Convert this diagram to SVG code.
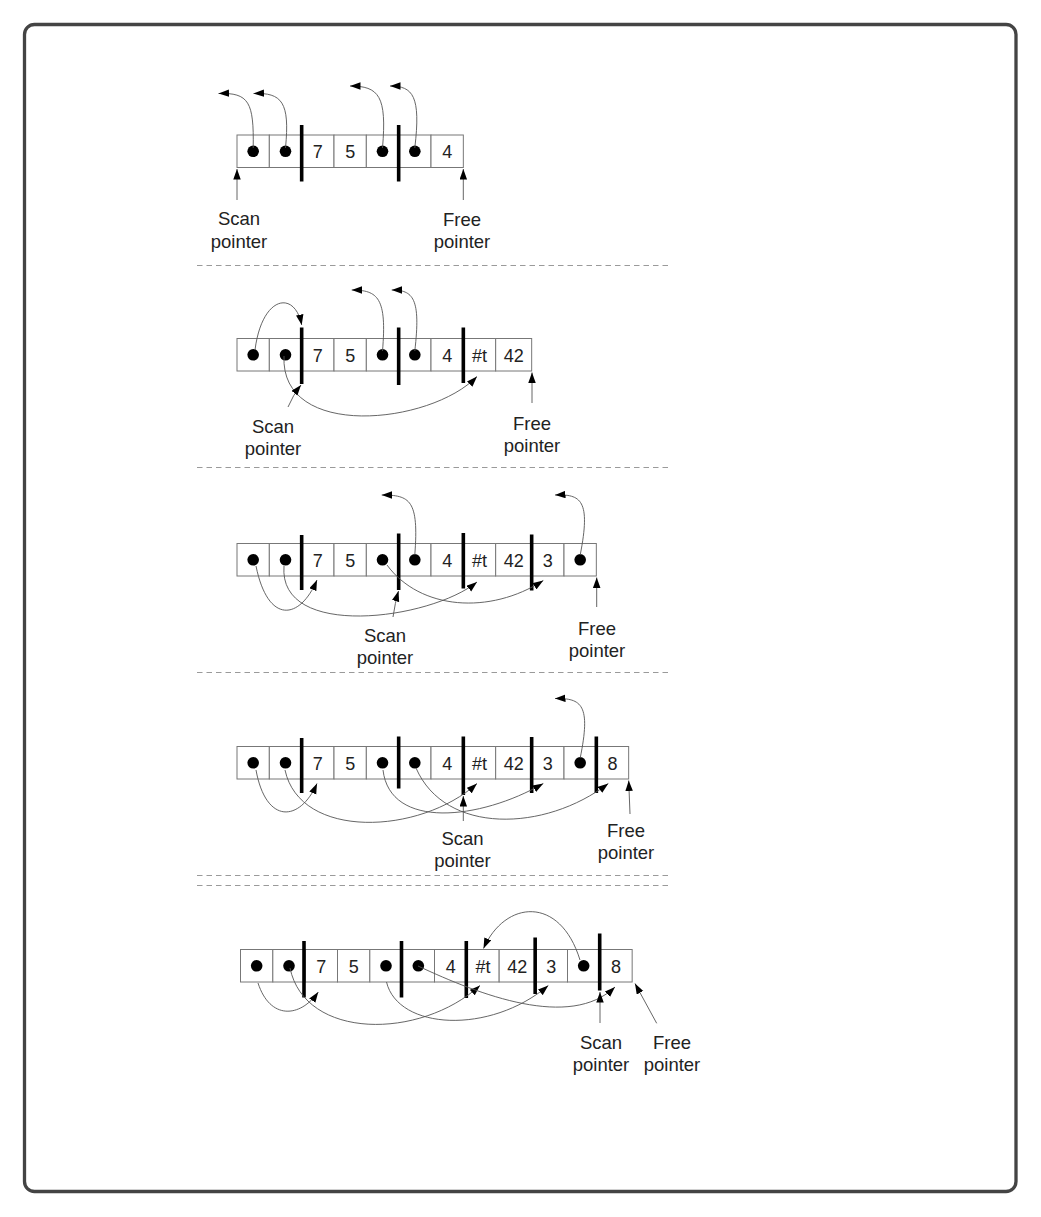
<svg xmlns="http://www.w3.org/2000/svg" width="1041" height="1217" viewBox="0 0 1041 1217">
<defs>
<style>
.frame{fill:#fff;stroke:#444;stroke-width:3.3}
.cell{fill:#fff;stroke:#777;stroke-width:1}
.val{font-family:"Liberation Sans",Arial,sans-serif;font-size:18px;text-anchor:middle;fill:#222}
.lbl{font-family:"Liberation Sans",Arial,sans-serif;font-size:18.5px;text-anchor:middle;fill:#222}
.bar{stroke:#000;stroke-width:3.6}
.dot{fill:#000}
.conn{fill:none;stroke:#555;stroke-width:0.9;marker-end:url(#ah)}
.sep{stroke:#9a9a9a;stroke-width:1.2;stroke-dasharray:5.5 4}
</style>
<marker id="ah" markerUnits="userSpaceOnUse" markerWidth="11" markerHeight="8" refX="10.5" refY="3.75" orient="auto">
<path d="M0,0 L10.5,3.75 L0,7.5 z" fill="#000"/>
</marker>
</defs>
<rect class="frame" x="24.5" y="24.5" width="991.5" height="1167" rx="10"/>

<g id="separators">
<line class="sep" x1="197" y1="265.5" x2="668" y2="265.5"/>
<line class="sep" x1="197" y1="467.5" x2="668" y2="467.5"/>
<line class="sep" x1="197" y1="672.5" x2="668" y2="672.5"/>
<line class="sep" x1="197" y1="875.5" x2="668" y2="875.5"/>
<line class="sep" x1="197" y1="885.5" x2="668" y2="885.5"/>
</g>

<!-- Panel 1 -->
<g id="row1" transform="translate(0,135)">
<rect class="cell" x="237" y="0" width="32.33" height="32.5"/>
<rect class="cell" x="269.33" y="0" width="32.33" height="32.5"/>
<rect class="cell" x="301.67" y="0" width="32.33" height="32.5"/>
<rect class="cell" x="334" y="0" width="32.33" height="32.5"/>
<rect class="cell" x="366.33" y="0" width="32.33" height="32.5"/>
<rect class="cell" x="398.67" y="0" width="32.33" height="32.5"/>
<rect class="cell" x="431" y="0" width="32.33" height="32.5"/>
<circle class="dot" cx="253.17" cy="16.3" r="5.8"/>
<circle class="dot" cx="285.5" cy="16.3" r="5.8"/>
<text class="val" x="317.83" y="23">7</text>
<text class="val" x="350.17" y="23">5</text>
<circle class="dot" cx="382.5" cy="16.3" r="5.8"/>
<circle class="dot" cx="414.83" cy="16.3" r="5.8"/>
<text class="val" x="447.17" y="23">4</text>
<line class="bar" x1="301.67" y1="-10" x2="301.67" y2="46.5"/>
<line class="bar" x1="398.67" y1="-10" x2="398.67" y2="46.5"/>
</g>
<g id="labels1">
<text class="lbl" x="239" y="225">Scan</text>
<text class="lbl" x="239" y="247.5">pointer</text>
<text class="lbl" x="462" y="225.5">Free</text>
<text class="lbl" x="462" y="247.5">pointer</text>
</g>

<!-- Panel 2 -->
<g id="row2" transform="translate(0,338.5)">
<rect class="cell" x="237" y="0" width="32.33" height="32.5"/>
<rect class="cell" x="269.33" y="0" width="32.33" height="32.5"/>
<rect class="cell" x="301.67" y="0" width="32.33" height="32.5"/>
<rect class="cell" x="334" y="0" width="32.33" height="32.5"/>
<rect class="cell" x="366.33" y="0" width="32.33" height="32.5"/>
<rect class="cell" x="398.67" y="0" width="32.33" height="32.5"/>
<rect class="cell" x="431" y="0" width="32.33" height="32.5"/>
<rect class="cell" x="463.33" y="0" width="32.33" height="32.5"/>
<rect class="cell" x="495.67" y="0" width="36" height="32.5"/>
<circle class="dot" cx="253.17" cy="16.3" r="5.8"/>
<circle class="dot" cx="285.5" cy="16.3" r="5.8"/>
<text class="val" x="317.83" y="23">7</text>
<text class="val" x="350.17" y="23">5</text>
<circle class="dot" cx="382.5" cy="16.3" r="5.8"/>
<circle class="dot" cx="414.83" cy="16.3" r="5.8"/>
<text class="val" x="447.17" y="23">4</text>
<text class="val" x="479.5" y="23">#t</text>
<text class="val" x="513.67" y="23">42</text>
<line class="bar" x1="301.67" y1="-11" x2="301.67" y2="45.5"/>
<line class="bar" x1="398.67" y1="-11" x2="398.67" y2="46.5"/>
<line class="bar" x1="463.33" y1="-11" x2="463.33" y2="44.5"/>
</g>
<g id="labels2">
<text class="lbl" x="273" y="433">Scan</text>
<text class="lbl" x="273" y="455">pointer</text>
<text class="lbl" x="532" y="429.5">Free</text>
<text class="lbl" x="532" y="451.5">pointer</text>
</g>

<!-- Panel 3 -->
<g id="row3" transform="translate(0,543.5)">
<rect class="cell" x="237" y="0" width="32.33" height="32.5"/>
<rect class="cell" x="269.33" y="0" width="32.33" height="32.5"/>
<rect class="cell" x="301.67" y="0" width="32.33" height="32.5"/>
<rect class="cell" x="334" y="0" width="32.33" height="32.5"/>
<rect class="cell" x="366.33" y="0" width="32.33" height="32.5"/>
<rect class="cell" x="398.67" y="0" width="32.33" height="32.5"/>
<rect class="cell" x="431" y="0" width="32.33" height="32.5"/>
<rect class="cell" x="463.33" y="0" width="32.33" height="32.5"/>
<rect class="cell" x="495.67" y="0" width="36" height="32.5"/>
<rect class="cell" x="531.67" y="0" width="32.33" height="32.5"/>
<rect class="cell" x="564" y="0" width="32.33" height="32.5"/>
<circle class="dot" cx="253.17" cy="16.3" r="5.8"/>
<circle class="dot" cx="285.5" cy="16.3" r="5.8"/>
<text class="val" x="317.83" y="23">7</text>
<text class="val" x="350.17" y="23">5</text>
<circle class="dot" cx="382.5" cy="16.3" r="5.8"/>
<circle class="dot" cx="414.83" cy="16.3" r="5.8"/>
<text class="val" x="447.17" y="23">4</text>
<text class="val" x="479.5" y="23">#t</text>
<text class="val" x="513.67" y="23">42</text>
<text class="val" x="547.83" y="23">3</text>
<circle class="dot" cx="580.17" cy="16.3" r="5.8"/>
<line class="bar" x1="301.67" y1="-8.5" x2="301.67" y2="46.5"/>
<line class="bar" x1="398.67" y1="-10" x2="398.67" y2="46.5"/>
<line class="bar" x1="463.33" y1="-10.5" x2="463.33" y2="45"/>
<line class="bar" x1="531.67" y1="-9" x2="531.67" y2="47"/>
</g>
<g id="labels3">
<text class="lbl" x="385" y="642">Scan</text>
<text class="lbl" x="385" y="664">pointer</text>
<text class="lbl" x="597" y="635">Free</text>
<text class="lbl" x="597" y="657">pointer</text>
</g>

<!-- Panel 4 -->
<g id="row4" transform="translate(0,746.5)">
<rect class="cell" x="237" y="0" width="32.33" height="32.5"/>
<rect class="cell" x="269.33" y="0" width="32.33" height="32.5"/>
<rect class="cell" x="301.67" y="0" width="32.33" height="32.5"/>
<rect class="cell" x="334" y="0" width="32.33" height="32.5"/>
<rect class="cell" x="366.33" y="0" width="32.33" height="32.5"/>
<rect class="cell" x="398.67" y="0" width="32.33" height="32.5"/>
<rect class="cell" x="431" y="0" width="32.33" height="32.5"/>
<rect class="cell" x="463.33" y="0" width="32.33" height="32.5"/>
<rect class="cell" x="495.67" y="0" width="36" height="32.5"/>
<rect class="cell" x="531.67" y="0" width="32.33" height="32.5"/>
<rect class="cell" x="564" y="0" width="32.33" height="32.5"/>
<rect class="cell" x="596.33" y="0" width="32.33" height="32.5"/>
<circle class="dot" cx="253.17" cy="16.3" r="5.8"/>
<circle class="dot" cx="285.5" cy="16.3" r="5.8"/>
<text class="val" x="317.83" y="23">7</text>
<text class="val" x="350.17" y="23">5</text>
<circle class="dot" cx="382.5" cy="16.3" r="5.8"/>
<circle class="dot" cx="414.83" cy="16.3" r="5.8"/>
<text class="val" x="447.17" y="23">4</text>
<text class="val" x="479.5" y="23">#t</text>
<text class="val" x="513.67" y="23">42</text>
<text class="val" x="547.83" y="23">3</text>
<circle class="dot" cx="580.17" cy="16.3" r="5.8"/>
<text class="val" x="612.5" y="23">8</text>
<line class="bar" x1="301.67" y1="-8.5" x2="301.67" y2="46.5"/>
<line class="bar" x1="398.67" y1="-10" x2="398.67" y2="42"/>
<line class="bar" x1="463.33" y1="-10" x2="463.33" y2="48.5"/>
<line class="bar" x1="531.67" y1="-9.5" x2="531.67" y2="46.5"/>
<line class="bar" x1="596.33" y1="-10" x2="596.33" y2="46.5"/>
</g>
<g id="labels4">
<text class="lbl" x="462.5" y="845">Scan</text>
<text class="lbl" x="462.5" y="867">pointer</text>
<text class="lbl" x="626" y="837">Free</text>
<text class="lbl" x="626" y="859">pointer</text>
</g>

<!-- Panel 5 -->
<g id="row5" transform="translate(3.5,949.5)">
<rect class="cell" x="237" y="0" width="32.33" height="32.5"/>
<rect class="cell" x="269.33" y="0" width="32.33" height="32.5"/>
<rect class="cell" x="301.67" y="0" width="32.33" height="32.5"/>
<rect class="cell" x="334" y="0" width="32.33" height="32.5"/>
<rect class="cell" x="366.33" y="0" width="32.33" height="32.5"/>
<rect class="cell" x="398.67" y="0" width="32.33" height="32.5"/>
<rect class="cell" x="431" y="0" width="32.33" height="32.5"/>
<rect class="cell" x="463.33" y="0" width="32.33" height="32.5"/>
<rect class="cell" x="495.67" y="0" width="36" height="32.5"/>
<rect class="cell" x="531.67" y="0" width="32.33" height="32.5"/>
<rect class="cell" x="564" y="0" width="32.33" height="32.5"/>
<rect class="cell" x="596.33" y="0" width="32.33" height="32.5"/>
<circle class="dot" cx="253.17" cy="16.3" r="5.8"/>
<circle class="dot" cx="285.5" cy="16.3" r="5.8"/>
<text class="val" x="317.83" y="23">7</text>
<text class="val" x="350.17" y="23">5</text>
<circle class="dot" cx="382.5" cy="16.3" r="5.8"/>
<circle class="dot" cx="414.83" cy="16.3" r="5.8"/>
<text class="val" x="447.17" y="23">4</text>
<text class="val" x="479.5" y="23">#t</text>
<text class="val" x="513.67" y="23">42</text>
<text class="val" x="547.83" y="23">3</text>
<circle class="dot" cx="580.17" cy="16.3" r="5.8"/>
<text class="val" x="612.5" y="23">8</text>
<line class="bar" x1="300.5" y1="-8.5" x2="300.5" y2="48"/>
<line class="bar" x1="398" y1="-8.5" x2="398" y2="48"/>
<line class="bar" x1="462.8" y1="-8.5" x2="462.8" y2="48.5"/>
<line class="bar" x1="531.67" y1="-12" x2="531.67" y2="44.5"/>
<line class="bar" x1="596.2" y1="-16" x2="596.2" y2="41"/>
</g>
<g id="labels5">
<text class="lbl" x="601" y="1049">Scan</text>
<text class="lbl" x="601" y="1071">pointer</text>
<text class="lbl" x="672" y="1049">Free</text>
<text class="lbl" x="672" y="1071">pointer</text>
</g>

<g id="connectors">
<!-- panel 1 -->
<path class="conn" d="M253.2,148 C254,102 249,92.5 218.5,93.5"/>
<path class="conn" d="M285.5,148 C290,102 282,92.5 253.5,93.5"/>
<path class="conn" d="M382.5,148 C387,96 379,86 350,86"/>
<path class="conn" d="M414.8,148 C421,96 413,86 390,86"/>
<path class="conn" d="M237,200 L237,169"/>
<path class="conn" d="M463.3,200 L463.3,169"/>
<!-- panel 2 -->
<path class="conn" d="M255,350 C262,295 295,290 301.7,325"/>
<path class="conn" d="M284,356 C280,440 430,425 477,376.5"/>
<path class="conn" d="M382.5,351 C387,298 378,290 351.7,290"/>
<path class="conn" d="M414.8,351 C421,298 413,290 391.7,290"/>
<path class="conn" d="M288,407 Q293,395 301,385"/>
<path class="conn" d="M532,403 L532,372.5"/>
<!-- panel 3 -->
<path class="conn" d="M256,566 C268,625 300,620 317,580"/>
<path class="conn" d="M284,566 C278,640 430,620 477,582"/>
<path class="conn" d="M387,565 C420,610 490,615 543.3,580.5"/>
<path class="conn" d="M414.8,555 C419,500 410,495 381.7,495"/>
<path class="conn" d="M580.2,555 C591,500 581,494 555,495"/>
<path class="conn" d="M393,617 Q395,603 398.5,591"/>
<path class="conn" d="M596.7,607 L596.7,577.5"/>
<!-- panel 4 -->
<path class="conn" d="M256,770 C266,825 300,822 317,783.5"/>
<path class="conn" d="M285,770 C300,840 420,835 477,783.5"/>
<path class="conn" d="M383,770 C390,830 480,820 543.3,783.5"/>
<path class="conn" d="M416,768 C445,835 545,832 608.3,783.5"/>
<path class="conn" d="M580.2,758 C591,705 582,698 555,698.5"/>
<path class="conn" d="M463.3,821 L463.3,796"/>
<path class="conn" d="M630,814 L628.7,780.5"/>
<!-- panel 5 -->
<path class="conn" d="M258,983 C270,1020 300,1018 318.3,992"/>
<path class="conn" d="M290,968 C305,1040 420,1040 480,985.5"/>
<path class="conn" d="M386.5,982 C398,1030 490,1035 548.3,985.5"/>
<path class="conn" d="M418,966 C480,995 570,1030 615,987"/>
<path class="conn" d="M580,960 C560,895 505,900 483.5,948.5"/>
<path class="conn" d="M600,1023 L600,992"/>
<path class="conn" d="M656.7,1023.3 L635,983.5"/>
</g>
</svg>
